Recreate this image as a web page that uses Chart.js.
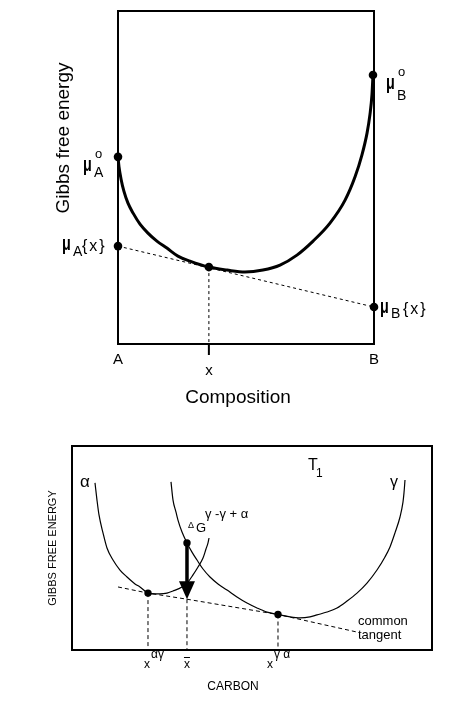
<!DOCTYPE html>
<html lang="en">
<head>
<meta charset="UTF-8">
<title>Gibbs free energy curves</title>
<script src="https://cdn.jsdelivr.net/npm/chart.js@4/dist/chart.umd.min.js"></script>
<style>
  body { margin: 0; background: #fff; }
  #topChart { position: absolute; left: 0; top: 0; }
  #bottomChart { position: absolute; left: 0; top: 420px; }
</style>
</head>
<body>
<canvas id="topChart" width="451" height="420"></canvas>
<canvas id="bottomChart" width="451" height="283"></canvas>

<script>
// ---- top figure: composition 0 (A) .. 1 (B), free energy 0..100 ----
const solCurveX = [0, 0.004, 0.012, 0.023, 0.039, 0.059, 0.086, 0.117, 0.152, 0.191, 0.234, 0.281, 0.355,
                   0.426, 0.496, 0.566, 0.633, 0.699, 0.762, 0.828, 0.887, 0.926, 0.953, 0.973, 0.984, 0.992, 0.996];
const solCurveG = [56.2, 53.2, 49.5, 45.9, 42.3, 39.3, 36.0, 33.3, 30.9, 28.8, 26.4, 24.9, 23.1,
                   22.2, 21.6, 22.2, 23.7, 26.7, 30.9, 36.3, 43.2, 50.2, 56.8, 63.4, 68.8, 74.8, 80.8];
const muA0 = 56.2, muB0 = 80.8;        // pure A and pure B
const xComp = 0.355, gAtComp = 23.1;   // composition x on the curve
const muAx = 29.4, muBx = 11.1;        // tangent intercepts

// ---- bottom figure: carbon 0..100, free energy 0..100 ----
const alphaX = [6.39, 6.94, 7.5, 8.61, 9.72, 11.39, 13.33, 15.28, 17.5, 18.89, 21.11, 23.06, 24.44,
                26.39, 28.06, 30.56, 32.22, 33.61, 35, 36.39, 37.22, 37.78, 38.06];
const alphaG = [81.9, 73.5, 66.2, 57.4, 50.0, 44.1, 39.2, 35.8, 32.4, 30.9, 27.9, 27.5, 27.5,
                27.9, 28.9, 30.9, 33.3, 36.8, 40.7, 45.1, 49.5, 52.5, 54.9];
const gammaX = [27.5, 28.06, 28.89, 29.44, 30.56, 31.94, 33.33, 34.72, 36.39, 38.33, 40.56, 43.06,
                45.83, 48.61, 51.39, 54.17, 57.22, 60.56, 63.33, 66.11, 68.06, 70.83, 73.61, 76.39,
                79.17, 81.94, 84.72, 86.94, 88.33, 89.72, 91.11, 91.94, 92.22, 92.5];
const gammaG = [82.4, 73.5, 67.6, 63.7, 57.8, 52.5, 48.0, 44.1, 39.7, 35.8, 32.4, 29.4,
                26.0, 23.0, 20.6, 18.6, 17.4, 16.2, 15.7, 16.2, 17.2, 18.6, 20.6, 24.0,
                27.9, 32.8, 39.2, 45.6, 50.5, 57.4, 65.2, 72.5, 77.0, 83.3];
const tangentX = [12.78, 21.11, 31.94, 57.22, 79.17];
const tangentG = [30.9, 27.9, 24.9, 17.4, 8.8];
const xAlphaGamma = 21.11, gAlphaGamma = 27.9;
const xBar = 31.94, gGammaXBar = 52.5, gTangentXBar = 24.9;
const xGammaAlpha = 57.22, gGammaAlpha = 17.4;

const FONT = '"Liberation Sans", Arial, sans-serif';

function pts(xs, ys) {
  return xs.map((x, i) => ({ x: x, y: ys[i] }));
}

function put(ctx, text, x, y, size, opts = {}) {
  ctx.save();
  ctx.font = (opts.bold ? 'bold ' : '') + size + 'px ' + FONT;
  ctx.fillStyle = '#000';
  ctx.textAlign = opts.align || 'left';
  ctx.textBaseline = opts.baseline || 'alphabetic';
  if (opts.spacing) ctx.letterSpacing = opts.spacing;
  ctx.translate(x, y);
  if (opts.rotate) ctx.rotate(opts.rotate);
  if (opts.sx) ctx.scale(opts.sx, 1);
  ctx.fillText(text, 0, 0);
  ctx.restore();
}

// bold narrow mu with optional super/subscript
function mu(ctx, x, y, sup, sub, subBase, tail, tailX) {
  put(ctx, 'μ', x, y, 20, { bold: true, sx: 0.72 });
  if (sup) put(ctx, sup, x + 12, y - 13, 13);
  if (sub) put(ctx, sub, x + 11, subBase, 14);
  if (tail) put(ctx, tail, tailX, y + 1, 16, { spacing: '2px' });
}

const frame = {
  id: 'frame',
  beforeDatasetsDraw(chart, args, opts) {
    const { ctx, chartArea: a } = chart;
    ctx.save();
    ctx.strokeStyle = '#000';
    ctx.lineWidth = opts.width;
    ctx.strokeRect(a.left, a.top, a.right - a.left, a.bottom - a.top);
    ctx.restore();
  }
};

const topLabels = {
  id: 'topLabels',
  afterDraw(chart) {
    const { ctx, chartArea: a, scales } = chart;
    const xs = scales.x;
    const px = xs.getPixelForValue(xComp);
    ctx.save();
    ctx.strokeStyle = '#000';
    ctx.lineWidth = 2;
    ctx.beginPath();
    ctx.moveTo(px, a.bottom);
    ctx.lineTo(px, a.bottom + 11);
    ctx.stroke();
    ctx.restore();

    put(ctx, 'A', xs.getPixelForValue(0), a.bottom + 20, 15, { align: 'center' });
    put(ctx, 'B', xs.getPixelForValue(1), a.bottom + 20, 15, { align: 'center' });
    put(ctx, 'x', px, a.bottom + 31, 15, { align: 'center' });
    put(ctx, 'Composition', 238, 403, 19, { align: 'center' });
    put(ctx, 'Gibbs free energy', 64, 138, 19, { align: 'center', baseline: 'middle', rotate: -Math.PI / 2 });

    mu(ctx, 83, 171, 'o', 'A', 177);
    mu(ctx, 386, 89, 'o', 'B', 100);
    mu(ctx, 62, 250, null, 'A', 256, '{x}', 82);
    mu(ctx, 380, 313, null, 'B', 318, '{x}', 403);
  }
};

new Chart(document.getElementById('topChart'), {
  type: 'scatter',
  data: {
    datasets: [{
      data: pts(solCurveX, solCurveG),
      showLine: true,
      borderColor: '#000',
      borderWidth: 3,
      pointRadius: 0,
      cubicInterpolationMode: 'monotone',
      clip: false
    }, {
      data: [{ x: 0, y: muAx }, { x: 1, y: muBx }],
      showLine: true,
      borderColor: '#000',
      borderWidth: 1,
      borderDash: [3, 3],
      pointRadius: 0,
      clip: false
    }, {
      data: [{ x: xComp, y: gAtComp }, { x: xComp, y: 0 }],
      showLine: true,
      borderColor: '#000',
      borderWidth: 1,
      borderDash: [3, 3],
      pointRadius: 0,
      clip: false
    }, {
      data: [{ x: 0, y: muA0 }, { x: 0.996, y: muB0 }, { x: 0, y: muAx }, { x: 1, y: muBx }, { x: xComp, y: gAtComp }],
      showLine: false,
      pointRadius: 4.3,
      pointBackgroundColor: '#000',
      pointBorderColor: '#000',
      pointBorderWidth: 0,
      clip: false
    }]
  },
  options: {
    responsive: false,
    animation: false,
    events: [],
    layout: { padding: { left: 118, top: 11, right: 77, bottom: 76 } },
    plugins: {
      legend: { display: false },
      tooltip: { enabled: false },
      frame: { width: 2 }
    },
    scales: {
      x: { type: 'linear', min: 0, max: 1, display: false },
      y: { type: 'linear', min: 0, max: 100, display: false }
    }
  },
  plugins: [frame, topLabels]
});

const bottomLabels = {
  id: 'bottomLabels',
  afterDraw(chart) {
    const { ctx, scales } = chart;
    const xs = scales.x, ys = scales.y;

    // arrow head at the common tangent
    const hx = xs.getPixelForValue(xBar);
    const hy = ys.getPixelForValue(gTangentXBar);
    ctx.save();
    ctx.fillStyle = '#000';
    ctx.beginPath();
    ctx.moveTo(hx, hy);
    ctx.lineTo(hx - 8, hy - 18);
    ctx.lineTo(hx + 8, hy - 18);
    ctx.closePath();
    ctx.fill();
    ctx.restore();

    put(ctx, 'α', 80, 67, 17);
    put(ctx, 'γ', 390, 67, 16);
    put(ctx, 'T', 308, 50, 16);
    put(ctx, '1', 316, 57, 12);
    put(ctx, 'Δ', 188, 108, 9);
    put(ctx, 'G', 196, 112, 13);
    put(ctx, 'γ -γ + α', 205, 98, 13);
    put(ctx, 'GIBBS FREE ENERGY', 53, 128, 11, { align: 'center', baseline: 'middle', rotate: -Math.PI / 2 });
    put(ctx, 'CARBON', 233, 270, 12, { align: 'center' });
    put(ctx, 'common', 358, 205, 13);
    put(ctx, 'tangent', 358, 219, 13);

    const p1 = xs.getPixelForValue(xAlphaGamma);
    put(ctx, 'x', p1 - 1, 248, 12, { align: 'center' });
    put(ctx, 'αγ', p1 + 3, 238, 12);
    const p2 = xs.getPixelForValue(xBar);
    put(ctx, 'x', p2, 248, 12, { align: 'center' });
    ctx.save();
    ctx.strokeStyle = '#000';
    ctx.lineWidth = 1;
    ctx.beginPath();
    ctx.moveTo(p2 - 3, 237.5);
    ctx.lineTo(p2 + 3, 237.5);
    ctx.stroke();
    ctx.restore();
    const p3 = xs.getPixelForValue(xGammaAlpha);
    put(ctx, 'x', p3 - 8, 248, 12, { align: 'center' });
    put(ctx, 'γ α', p3 - 4, 238, 12);
  }
};

function dashedDrop(x, y) {
  return {
    data: [{ x: x, y: y }, { x: x, y: 0 }],
    showLine: true,
    borderColor: '#000',
    borderWidth: 1,
    borderDash: [4, 3],
    pointRadius: 0,
    clip: false
  };
}

new Chart(document.getElementById('bottomChart'), {
  type: 'scatter',
  data: {
    datasets: [{
      data: pts(alphaX, alphaG),
      showLine: true,
      borderColor: '#000',
      borderWidth: 1.2,
      pointRadius: 0,
      cubicInterpolationMode: 'monotone',
      clip: false
    }, {
      data: pts(gammaX, gammaG),
      showLine: true,
      borderColor: '#000',
      borderWidth: 1.2,
      pointRadius: 0,
      cubicInterpolationMode: 'monotone',
      clip: false
    }, {
      data: pts(tangentX, tangentG),
      showLine: true,
      borderColor: '#000',
      borderWidth: 1,
      borderDash: [4, 3],
      pointRadius: 0,
      clip: false
    },
    dashedDrop(xAlphaGamma, gAlphaGamma),
    dashedDrop(xBar, gTangentXBar),
    dashedDrop(xGammaAlpha, gGammaAlpha),
    {
      data: [{ x: xBar, y: gGammaXBar }, { x: xBar, y: gTangentXBar + 6 }],
      showLine: true,
      borderColor: '#000',
      borderWidth: 3.5,
      pointRadius: 0,
      clip: false
    }, {
      data: [{ x: xAlphaGamma, y: gAlphaGamma }, { x: xBar, y: gGammaXBar }, { x: xGammaAlpha, y: gGammaAlpha }],
      showLine: false,
      pointRadius: 3.7,
      pointBackgroundColor: '#000',
      pointBorderColor: '#000',
      pointBorderWidth: 0,
      clip: false
    }]
  },
  options: {
    responsive: false,
    animation: false,
    events: [],
    layout: { padding: { left: 72, top: 26, right: 19, bottom: 53 } },
    plugins: {
      legend: { display: false },
      tooltip: { enabled: false },
      frame: { width: 2 }
    },
    scales: {
      x: { type: 'linear', min: 0, max: 100, display: false },
      y: { type: 'linear', min: 0, max: 100, display: false }
    }
  },
  plugins: [frame, bottomLabels]
});
</script>
</body>
</html>
